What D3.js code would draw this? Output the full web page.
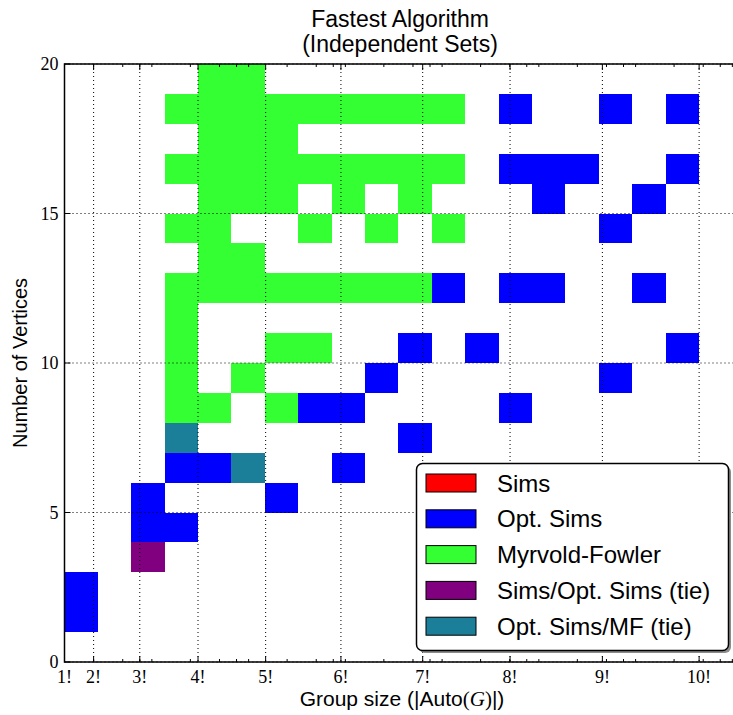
<!DOCTYPE html>
<html>
<head>
  <meta charset="utf-8">
  <script src="https://d3js.org/d3.v7.min.js"></script>
  <style>
    body { margin: 0; background: #fff; }
    .tick-label { font-family: "Liberation Serif", "DejaVu Serif", serif; font-size: 18px; }
    .sans { font-family: "Liberation Sans", Arial, sans-serif; }
  </style>
</head>
<body>
<script type="text/javascript">
  // legend categories and their colours
  var categories = ["Sims", "Opt. Sims", "Myrvold-Fowler", "Sims/Opt. Sims (tie)", "Opt. Sims/MF (tie)"];
  var colors = ["#ff0000", "#0000ff", "#33ff33", "#800080", "#1b7f99"];

  // winning cells, [vertices, group size bin] (bins are 20 equal steps of log10 |Auto(G)|)
  var simsCells = [];
  var optSimsCells = [
    [1, 0], [2, 0], [4, 2], [4, 3], [5, 2], [5, 6], [6, 3], [6, 4], [6, 8], [7, 10],
    [8, 7], [8, 8], [8, 13], [9, 9], [9, 16], [10, 10], [10, 12], [10, 18],
    [12, 11], [12, 13], [12, 14], [12, 17], [14, 16], [15, 14], [15, 17],
    [16, 13], [16, 14], [16, 15], [16, 18], [18, 13], [18, 16], [18, 18]
  ];
  var mfCells = [
    [8, 3], [8, 4], [8, 6], [9, 3], [9, 5], [10, 3], [10, 6], [10, 7], [11, 3],
    [12, 3], [12, 4], [12, 5], [12, 6], [12, 7], [12, 8], [12, 9], [12, 10],
    [13, 4], [13, 5], [14, 3], [14, 4], [14, 7], [14, 9], [14, 11],
    [15, 4], [15, 5], [15, 6], [15, 8], [15, 10],
    [16, 3], [16, 4], [16, 5], [16, 6], [16, 7], [16, 8], [16, 9], [16, 10], [16, 11],
    [17, 4], [17, 5], [17, 6],
    [18, 3], [18, 4], [18, 5], [18, 6], [18, 7], [18, 8], [18, 9], [18, 10], [18, 11],
    [19, 4], [19, 5]
  ];
  var tieSimsOptCells = [[3, 2]];
  var tieOptMfCells = [[6, 5], [7, 3]];

  // bins and axis settings
  var nBins = 20;
  var binMaxLog = 6.904;          // log10 of the largest group size
  var xMax = 9.6e6;
  var yMax = 20;
  var factorialTicks = [1, 2, 3, 4, 5, 6, 7, 8, 9, 10];
  var yTicks = [0, 5, 10, 15, 20];
  var minorSubs = [2, 4, 6, 8];

  var width = 733, height = 715;
  var pLeft = 64.5, pRight = 740, pTop = 64, pBottom = 662;

  var svg = d3.select("body").append("svg")
      .attr("width", width)
      .attr("height", height);

  var x = d3.scaleLog().domain([1, xMax]).range([pLeft, pRight]);
  var y = d3.scaleLinear().domain([0, yMax]).range([pBottom, pTop]);

  function fact(n) { return n <= 1 ? 1 : n * fact(n - 1); }
  function binEdge(i) { return Math.pow(10, i * binMaxLog / nBins); }

  svg.append("clipPath").attr("id", "plotclip")
    .append("rect").attr("x", pLeft).attr("y", pTop).attr("width", pRight - pLeft).attr("height", pBottom - pTop);

  // cells
  var series = [simsCells, optSimsCells, mfCells, tieSimsOptCells, tieOptMfCells];
  var cellG = svg.append("g").attr("clip-path", "url(#plotclip)");
  series.forEach(function (cells, si) {
    cellG.selectAll(null)
      .data(cells)
      .enter()
      .append("rect")
      .attr("x", function (d) { return x(binEdge(d[1])); })
      .attr("width", function (d) { return x(binEdge(d[1] + 1)) - x(binEdge(d[1])); })
      .attr("y", function (d) { return y(d[0] + 1); })
      .attr("height", function (d) { return y(d[0]) - y(d[0] + 1); })
      .attr("fill", colors[si])
      .attr("shape-rendering", "crispEdges");
  });

  // dotted grid on top of the cells
  var grid = svg.append("g");
  factorialTicks.forEach(function (k) {
    grid.append("line")
      .attr("x1", x(fact(k))).attr("x2", x(fact(k)))
      .attr("y1", pTop).attr("y2", pBottom)
      .attr("stroke", "#000").attr("stroke-width", 1).attr("stroke-dasharray", "1,3");
  });
  yTicks.forEach(function (v) {
    grid.append("line")
      .attr("x1", pLeft).attr("x2", pRight)
      .attr("y1", y(v)).attr("y2", y(v))
      .attr("stroke", "#000").attr("stroke-width", 1).attr("stroke-dasharray", "1,3");
  });

  // ticks (inward, top and bottom)
  var tickG = svg.append("g").attr("stroke", "#000").attr("stroke-width", 1);
  factorialTicks.forEach(function (k) {
    var px = x(fact(k));
    tickG.append("line").attr("x1", px).attr("x2", px).attr("y1", pBottom).attr("y2", pBottom - 6);
    tickG.append("line").attr("x1", px).attr("x2", px).attr("y1", pTop).attr("y2", pTop + 6);
  });
  for (var e = 0; e <= 7; e++) {
    minorSubs.forEach(function (m) {
      var v = m * Math.pow(10, e);
      if (v > xMax) return;
      var px = x(v);
      tickG.append("line").attr("x1", px).attr("x2", px).attr("y1", pBottom).attr("y2", pBottom - 3);
      tickG.append("line").attr("x1", px).attr("x2", px).attr("y1", pTop).attr("y2", pTop + 3);
    });
  }
  yTicks.forEach(function (v) {
    tickG.append("line").attr("x1", pLeft).attr("x2", pLeft + 6).attr("y1", y(v)).attr("y2", y(v));
  });

  // frame
  svg.append("rect")
    .attr("x", pLeft).attr("y", pTop)
    .attr("width", pRight - pLeft).attr("height", pBottom - pTop)
    .attr("fill", "none").attr("stroke", "#000").attr("stroke-width", 1.5);

  // tick labels
  svg.selectAll("xlab")
    .data(factorialTicks)
    .enter()
    .append("text")
    .attr("class", "tick-label")
    .attr("x", function (k) { return x(fact(k)); })
    .attr("y", 683)
    .attr("text-anchor", "middle")
    .text(function (k) { return k + "!"; });

  svg.selectAll("ylab")
    .data(yTicks)
    .enter()
    .append("text")
    .attr("class", "tick-label")
    .attr("x", pLeft - 6)
    .attr("y", function (v) { return y(v) + 6; })
    .attr("text-anchor", "end")
    .text(function (v) { return v; });

  // title
  svg.append("text").attr("class", "sans")
    .attr("x", 400).attr("y", 27)
    .attr("text-anchor", "middle").style("font-size", "23px")
    .text("Fastest Algorithm");
  svg.append("text").attr("class", "sans")
    .attr("x", 400).attr("y", 52)
    .attr("text-anchor", "middle").style("font-size", "23px")
    .text("(Independent Sets)");

  // axis labels
  var xl = svg.append("text").attr("class", "sans")
    .attr("x", 402).attr("y", 706)
    .attr("text-anchor", "middle").style("font-size", "21px");
  xl.append("tspan").text("Group size (|Auto");
  xl.append("tspan").style("font-family", "Liberation Serif, serif").text("(");
  xl.append("tspan").style("font-family", "Liberation Serif, serif").style("font-style", "italic").text("G");
  xl.append("tspan").style("font-family", "Liberation Serif, serif").text(")");
  xl.append("tspan").text("|)");

  svg.append("text").attr("class", "sans")
    .attr("transform", "translate(27," + (pTop + pBottom) / 2 + ") rotate(-90)")
    .attr("text-anchor", "middle").style("font-size", "20px")
    .text("Number of Vertices");

  // legend with shadow
  var lg = svg.append("g");
  lg.append("rect")
    .attr("x", 419).attr("y", 466).attr("width", 312).attr("height", 187)
    .attr("rx", 6).attr("fill", "#8c8c8c");
  lg.append("rect")
    .attr("x", 416.5).attr("y", 463.5).attr("width", 312).attr("height", 187)
    .attr("rx", 6).attr("fill", "#fff").attr("stroke", "#000").attr("stroke-width", 1.5);

  var item = lg.selectAll("g.item")
    .data(categories)
    .enter()
    .append("g")
    .attr("transform", function (d, i) { return "translate(0," + (i * 35.8) + ")"; });
  item.append("rect")
    .attr("x", 426).attr("y", 474)
    .attr("width", 50).attr("height", 18)
    .attr("fill", function (d, i) { return colors[i]; })
    .attr("stroke", "#000").attr("stroke-width", 1);
  item.append("text").attr("class", "sans")
    .attr("x", 497).attr("y", 491.5)
    .style("font-size", "24px")
    .text(function (d) { return d; });
</script>
</body>
</html>
